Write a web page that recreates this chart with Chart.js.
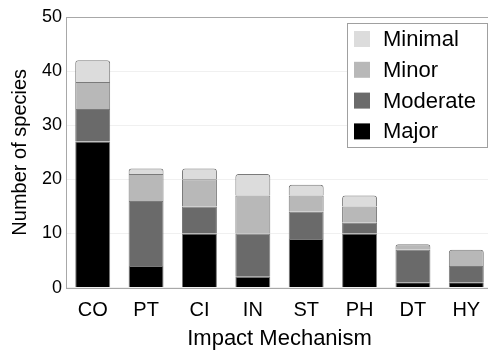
<!DOCTYPE html>
<html>
<head>
<meta charset="utf-8">
<style>html,body{margin:0;padding:0;background:#fff;overflow:hidden;}canvas{display:block;}</style>
<script src="https://cdn.jsdelivr.net/npm/chart.js@4/dist/chart.umd.min.js"></script>
</head>
<body>
<canvas id="c" width="494" height="352"></canvas>
<script>
const categories = ["CO", "PT", "CI", "IN", "ST", "PH", "DT", "HY"];
const major    = [27, 4, 10, 2, 9, 10, 1, 1];
const moderate = [6, 12, 5, 8, 5, 2, 6, 3];
const minor    = [5, 5, 5, 7, 3, 3, 1, 3];
const minimal  = [4, 1, 2, 4, 2, 2, 0, 0];
const yTicks = [0, 10, 20, 30, 40, 50];

const FONT = "'Liberation Sans', Arial, sans-serif";

const legendPlugin = {
  id: 'boxLegend',
  afterDraw(chart) {
    const ctx = chart.ctx;
    const items = chart.data.datasets.slice().reverse();
    const x0 = 347, y0 = 23, w = 140, h = 124;
    ctx.save();
    ctx.fillStyle = '#fff';
    ctx.fillRect(x0, y0, w, h);
    ctx.strokeStyle = '#a0a0a0';
    ctx.lineWidth = 1;
    ctx.strokeRect(x0 + 0.5, y0 + 0.5, w, h);
    ctx.font = '22px ' + FONT;
    ctx.textBaseline = 'middle';
    items.forEach((ds, i) => {
      const cy = 39 + i * 30.8;
      ctx.fillStyle = ds.backgroundColor;
      ctx.fillRect(354, cy - 8, 16, 16);
      ctx.fillStyle = '#000';
      ctx.fillText(ds.label, 383, cy + 1);
    });
    ctx.restore();
  }
};

const frame = {
  id: 'frame',
  beforeDatasetsDraw(chart) {
    const a = chart.chartArea, ctx = chart.ctx;
    ctx.save();
    ctx.strokeStyle = '#a8a8a8';
    ctx.lineWidth = 1;
    ctx.strokeRect(Math.round(a.left) + 0.5, Math.round(a.top) + 0.5, Math.round(a.right - a.left), Math.round(a.bottom - a.top));
    ctx.restore();
  }
};

const mk = (label, data, color) => ({
  label, data, backgroundColor: color, borderColor: '#7a7a7a', borderWidth: 1,
  borderRadius: 3, borderSkipped: 'start'
});

new Chart(document.getElementById('c'), {
  type: 'bar',
  data: {
    labels: categories,
    datasets: [
      mk('Major', major, '#000000'),
      mk('Moderate', moderate, '#6a6a6a'),
      mk('Minor', minor, '#b8b8b8'),
      mk('Minimal', minimal, '#dcdcdc')
    ]
  },
  options: {
    responsive: false,
    animation: false,
    layout: { padding: { left: 8, right: 1, top: 17, bottom: 0 } },
    plugins: { legend: { display: false }, tooltip: { enabled: false } },
    datasets: { bar: { categoryPercentage: 0.655, barPercentage: 1.0 } },
    scales: {
      x: {
        stacked: true,
        grid: { display: false, drawTicks: false },
        border: { display: false },
        ticks: { color: '#000', font: { family: FONT, size: 20 }, padding: 11 },
        title: { display: true, text: 'Impact Mechanism', color: '#000', font: { family: FONT, size: 22 }, padding: { top: -8, bottom: 0 } }
      },
      y: {
        stacked: true,
        min: 0, max: 50,
        afterBuildTicks(axis) { axis.ticks = yTicks.map(v => ({ value: v })); },
        grid: { color: '#f0f0f0', drawTicks: false },
        border: { display: false },
        ticks: { color: '#000', font: { family: FONT, size: 18 }, padding: 4 },
        title: { display: true, text: 'Number of species', color: '#000', font: { family: FONT, size: 20 }, padding: { top: 0, bottom: 6 } }
      }
    }
  },
  plugins: [frame, legendPlugin]
});
</script>
</body>
</html>
